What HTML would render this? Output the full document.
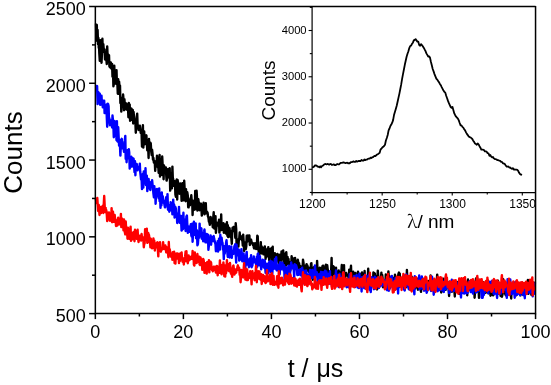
<!DOCTYPE html>
<html><head><meta charset="utf-8"><style>
html,body{margin:0;padding:0;background:#fff;}
svg{display:block;}
text{font-family:"Liberation Sans",Arial,sans-serif;fill:#000;}
</style></head><body>
<svg width="551" height="385" viewBox="0 0 551 385">
<path d="M96.0 23.5 L96.4 40.0 L96.8 25.0 L97.2 41.0 L97.6 30.0 L98.0 44.0 L98.4 38.0 L98.8 48.0 L98.9 39.9 L99.3 53.1 L99.8 60.8 L100.2 51.0 L100.6 40.1 L101.1 42.8 L101.5 62.8 L102.0 52.8 L102.4 38.7 L102.8 51.8 L103.3 44.2 L103.7 48.8 L104.2 50.5 L104.6 49.4 L105.0 59.5 L105.5 55.5 L105.9 52.1 L106.4 60.2 L106.8 64.0 L107.2 46.5 L107.7 58.3 L108.1 54.4 L108.6 61.9 L109.0 55.1 L109.4 66.3 L109.9 67.3 L110.3 66.7 L110.8 62.5 L111.2 68.5 L111.6 64.7 L112.1 64.0 L112.5 76.8 L113.0 68.4 L113.4 86.2 L113.8 84.2 L114.3 65.7 L114.7 83.0 L115.2 73.9 L115.6 82.9 L116.0 83.8 L116.5 70.1 L116.9 83.5 L117.4 84.2 L117.8 93.8 L118.2 79.3 L118.7 93.9 L119.1 81.7 L119.6 88.2 L120.0 85.6 L120.4 102.9 L120.9 97.7 L121.3 111.6 L121.8 100.2 L122.2 102.7 L122.6 103.7 L123.1 94.5 L123.5 99.3 L124.0 110.3 L124.4 99.1 L124.8 104.2 L125.3 103.8 L125.7 109.2 L126.2 103.5 L126.6 106.0 L127.0 109.7 L127.5 109.8 L127.9 104.2 L128.4 117.3 L128.8 102.9 L129.2 104.4 L129.7 104.6 L130.1 120.7 L130.6 112.4 L131.0 109.0 L131.4 108.6 L131.9 120.0 L132.3 110.7 L132.8 110.0 L133.2 123.5 L133.6 112.0 L134.1 118.6 L134.5 121.5 L135.0 119.3 L135.4 122.7 L135.8 132.8 L136.3 121.1 L136.7 116.9 L137.2 113.8 L137.6 125.4 L138.0 125.2 L138.5 130.0 L138.9 125.9 L139.4 126.6 L139.8 125.7 L140.2 127.8 L140.7 133.0 L141.1 130.1 L141.6 134.0 L142.0 146.6 L142.4 138.0 L142.9 125.2 L143.3 147.6 L143.8 139.2 L144.2 131.5 L144.6 144.3 L145.1 139.3 L145.5 136.0 L146.0 136.7 L146.4 135.3 L146.8 142.9 L147.3 150.3 L147.7 142.2 L148.2 147.8 L148.6 158.0 L149.0 139.0 L149.5 149.3 L149.9 146.5 L150.4 142.6 L150.8 143.7 L151.2 151.1 L151.7 155.0 L152.1 149.8 L152.6 154.5 L153.0 159.7 L153.4 158.0 L153.9 162.6 L154.3 161.0 L154.8 162.1 L155.2 170.9 L155.6 163.9 L156.1 161.2 L156.5 165.3 L157.0 155.6 L157.4 159.7 L157.8 167.2 L158.3 166.6 L158.7 172.8 L159.2 163.7 L159.6 155.0 L160.0 176.6 L160.5 171.7 L160.9 159.1 L161.4 174.8 L161.8 167.2 L162.2 156.5 L162.7 165.7 L163.1 165.8 L163.6 179.3 L164.0 165.4 L164.4 169.4 L164.9 169.9 L165.3 170.0 L165.8 167.4 L166.2 174.8 L166.6 180.6 L167.1 178.5 L167.5 169.7 L168.0 169.0 L168.4 177.3 L168.8 172.9 L169.3 174.0 L169.7 168.3 L170.2 190.6 L170.6 184.8 L171.0 173.9 L171.5 185.5 L171.9 188.4 L172.4 166.6 L172.8 177.9 L173.2 179.2 L173.7 185.8 L174.1 181.5 L174.6 181.3 L175.0 182.7 L175.4 194.4 L175.9 196.7 L176.3 181.3 L176.8 179.4 L177.2 199.5 L177.6 180.0 L178.1 182.9 L178.5 186.9 L179.0 190.0 L179.4 193.7 L179.8 190.4 L180.3 183.5 L180.7 192.0 L181.2 191.0 L181.6 200.9 L182.0 190.4 L182.5 183.2 L182.9 185.4 L183.4 200.4 L183.8 189.3 L184.2 180.8 L184.7 190.1 L185.1 193.9 L185.6 201.2 L186.0 189.1 L186.4 199.2 L186.9 200.4 L187.3 192.3 L187.8 195.7 L188.2 207.3 L188.6 207.4 L189.1 202.9 L189.5 200.3 L190.0 205.3 L190.4 198.5 L190.8 199.2 L191.3 195.3 L191.7 200.6 L192.2 200.5 L192.6 215.0 L193.0 200.8 L193.5 209.4 L193.9 209.9 L194.4 201.7 L194.8 209.6 L195.2 191.0 L195.7 204.1 L196.1 208.7 L196.6 190.7 L197.0 197.9 L197.4 210.6 L197.9 203.5 L198.3 199.1 L198.8 203.4 L199.2 202.8 L199.6 210.2 L200.1 209.1 L200.5 205.4 L201.0 203.7 L201.4 207.5 L201.8 215.6 L202.3 210.6 L202.7 212.7 L203.2 208.7 L203.6 202.8 L204.0 206.5 L204.5 214.4 L204.9 211.8 L205.4 206.7 L205.8 203.3 L206.2 213.4 L206.7 211.5 L207.1 212.0 L207.6 212.8 L208.0 216.7 L208.4 217.4 L208.9 221.6 L209.3 222.0 L209.8 224.8 L210.2 222.6 L210.6 217.0 L211.1 219.1 L211.5 222.7 L212.0 218.7 L212.4 223.7 L212.8 227.3 L213.3 217.2 L213.7 212.3 L214.2 228.5 L214.6 222.6 L215.0 226.6 L215.5 216.1 L215.9 232.8 L216.4 227.8 L216.8 223.6 L217.2 222.8 L217.7 225.6 L218.1 224.4 L218.6 224.0 L219.0 219.8 L219.4 232.6 L219.9 226.0 L220.3 226.8 L220.8 227.2 L221.2 214.5 L221.6 230.0 L222.1 225.7 L222.5 226.2 L223.0 228.3 L223.4 223.1 L223.8 232.8 L224.3 225.0 L224.7 224.2 L225.2 224.7 L225.6 230.2 L226.0 233.5 L226.5 226.8 L226.9 222.3 L227.4 235.9 L227.8 225.1 L228.2 237.1 L228.7 230.9 L229.1 227.8 L229.6 228.3 L230.0 234.3 L230.4 236.8 L230.9 231.4 L231.3 237.6 L231.8 243.8 L232.2 232.2 L232.6 227.6 L233.1 228.4 L233.5 227.0 L234.0 231.1 L234.4 231.0 L234.8 228.1 L235.3 237.9 L235.7 223.2 L236.2 229.0 L236.6 246.4 L237.0 241.8 L237.5 239.5 L237.9 239.6 L238.4 246.6 L238.8 240.7 L239.2 238.8 L239.7 232.5 L240.1 238.7 L240.6 235.8 L241.0 236.3 L241.4 236.7 L241.9 240.4 L242.3 239.3 L242.8 245.6 L243.2 234.7 L243.6 240.7 L244.1 251.0 L244.5 242.1 L245.0 248.0 L245.4 247.9 L245.8 249.0 L246.3 246.3 L246.7 235.8 L247.2 241.6 L247.6 241.2 L248.0 235.5 L248.5 241.1 L248.9 237.4 L249.4 235.5 L249.8 245.0 L250.2 243.9 L250.7 240.9 L251.1 239.7 L251.6 241.9 L252.0 242.8 L252.4 243.0 L252.9 244.9 L253.3 243.3 L253.8 247.6 L254.2 248.5 L254.6 247.9 L255.1 243.1 L255.5 243.6 L256.0 249.0 L256.4 246.2 L256.8 247.2 L257.3 235.8 L257.7 236.1 L258.2 249.7 L258.6 249.8 L259.0 255.2 L259.5 252.1 L259.9 249.8 L260.4 249.0 L260.8 242.1 L261.2 253.5 L261.7 246.4 L262.1 252.0 L262.6 250.7 L263.0 251.2 L263.4 254.4 L263.9 247.8 L264.3 248.5 L264.8 246.4 L265.2 248.9 L265.6 259.0 L266.1 249.3 L266.5 257.0 L267.0 255.4 L267.4 255.2 L267.8 255.7 L268.3 247.1 L268.7 254.0 L269.2 260.1 L269.6 249.3 L270.0 252.6 L270.5 249.7 L270.9 254.8 L271.4 248.2 L271.8 261.4 L272.2 252.0 L272.7 246.6 L273.1 262.8 L273.6 259.1 L274.0 257.1 L274.4 257.4 L274.9 253.3 L275.3 254.1 L275.8 258.9 L276.2 260.0 L276.6 260.2 L277.1 256.9 L277.5 253.9 L278.0 255.4 L278.4 261.7 L278.8 263.5 L279.3 255.2 L279.7 254.7 L280.2 263.1 L280.6 260.8 L281.0 260.8 L281.5 251.5 L281.9 256.1 L282.4 255.6 L282.8 259.2 L283.2 250.5 L283.7 264.6 L284.1 260.2 L284.6 261.0 L285.0 253.6 L285.4 259.2 L285.9 265.8 L286.3 252.3 L286.8 261.3 L287.2 263.3 L287.6 257.0 L288.1 264.2 L288.5 259.0 L289.0 266.5 L289.4 263.4 L289.8 262.2 L290.3 270.7 L290.7 265.4 L291.2 267.8 L291.6 256.3 L292.0 259.0 L292.5 266.1 L292.9 266.6 L293.4 262.3 L293.8 266.4 L294.2 258.1 L294.7 264.2 L295.1 258.0 L295.6 265.1 L296.0 261.5 L296.4 261.0 L296.9 264.4 L297.3 272.7 L297.8 259.8 L298.2 261.9 L298.6 269.8 L299.1 263.1 L299.5 273.4 L300.0 266.5 L300.4 266.1 L300.8 267.5 L301.3 274.0 L301.7 269.2 L302.2 268.8 L302.6 267.8 L303.0 259.6 L303.5 262.9 L303.9 274.0 L304.4 271.1 L304.8 269.9 L305.2 270.7 L305.7 265.5 L306.1 269.7 L306.6 264.2 L307.0 270.3 L307.4 265.5 L307.9 267.9 L308.3 271.1 L308.8 267.8 L309.2 272.4 L309.6 271.7 L310.1 271.5 L310.5 276.0 L311.0 263.6 L311.4 263.2 L311.8 273.3 L312.3 274.9 L312.7 279.8 L313.2 274.2 L313.6 274.7 L314.0 267.1 L314.5 274.5 L314.9 274.2 L315.4 266.6 L315.8 267.4 L316.2 271.0 L316.7 272.9 L317.1 260.9 L317.6 272.1 L318.0 272.9 L318.4 271.2 L318.9 273.3 L319.3 274.2 L319.8 267.7 L320.2 274.2 L320.6 271.3 L321.1 268.3 L321.5 273.6 L322.0 279.4 L322.4 266.3 L322.8 265.6 L323.3 265.7 L323.7 281.9 L324.2 272.1 L324.6 273.0 L325.0 269.9 L325.5 269.3 L325.9 264.6 L326.4 274.5 L326.8 274.9 L327.2 265.1 L327.7 269.3 L328.1 270.8 L328.6 274.1 L329.0 275.3 L329.4 279.3 L329.9 280.5 L330.3 279.3 L330.8 280.6 L331.2 269.6 L331.6 258.0 L332.1 280.0 L332.5 276.3 L333.0 275.1 L333.4 266.3 L333.8 266.9 L334.3 278.3 L334.7 276.6 L335.2 273.9 L335.6 273.4 L336.0 267.6 L336.5 276.9 L336.9 279.8 L337.4 282.5 L337.8 275.5 L338.2 274.5 L338.7 270.5 L339.1 280.8 L339.6 283.0 L340.0 272.8 L340.4 276.8 L340.9 275.9 L341.3 273.0 L341.8 265.0 L342.2 274.0 L342.6 278.3 L343.1 269.3 L343.5 272.0 L344.0 265.1 L344.4 281.4 L344.8 278.0 L345.3 276.0 L345.7 274.6 L346.2 273.0 L346.6 275.5 L347.0 274.5 L347.5 274.8 L347.9 275.8 L348.4 276.5 L348.8 282.8 L349.2 269.6 L349.7 277.2 L350.1 273.4 L350.6 271.2 L351.0 265.8 L351.4 278.9 L351.9 272.0 L352.3 273.0 L352.8 278.4 L353.2 271.7 L353.6 276.6 L354.1 276.2 L354.5 280.1 L355.0 281.1 L355.4 272.9 L355.8 280.7 L356.3 276.3 L356.7 277.4 L357.2 275.9 L357.6 280.3 L358.0 271.7 L358.5 278.1 L358.9 282.2 L359.4 275.9 L359.8 286.0 L360.2 274.0 L360.7 278.2 L361.1 275.2 L361.6 274.6 L362.0 272.5 L362.4 275.1 L362.9 277.3 L363.3 274.0 L363.8 281.5 L364.2 284.3 L364.6 271.0 L365.1 281.4 L365.5 278.6 L366.0 278.9 L366.4 288.4 L366.8 283.2 L367.3 279.4 L367.7 278.8 L368.2 268.7 L368.6 281.5 L369.0 275.0 L369.5 279.0 L369.9 278.7 L370.4 282.6 L370.8 287.3 L371.2 282.8 L371.7 284.1 L372.1 277.5 L372.6 280.6 L373.0 282.0 L373.4 272.5 L373.9 287.6 L374.3 275.7 L374.8 273.3 L375.2 286.0 L375.6 288.2 L376.1 276.0 L376.5 276.4 L377.0 289.5 L377.4 279.6 L377.8 270.6 L378.3 276.6 L378.7 288.0 L379.2 282.2 L379.6 282.7 L380.0 284.8 L380.5 282.4 L380.9 278.1 L381.4 272.7 L381.8 281.6 L382.2 274.9 L382.7 279.5 L383.1 287.4 L383.6 282.2 L384.0 280.1 L384.4 280.2 L384.9 283.1 L385.3 284.0 L385.8 274.4 L386.2 280.9 L386.6 287.6 L387.1 283.4 L387.5 276.9 L388.0 277.3 L388.4 271.4 L388.8 276.9 L389.3 287.3 L389.7 280.1 L390.2 276.8 L390.6 278.0 L391.0 280.0 L391.5 280.1 L391.9 279.1 L392.4 277.3 L392.8 283.4 L393.2 287.3 L393.7 278.3 L394.1 278.5 L394.6 285.9 L395.0 274.6 L395.4 278.3 L395.9 279.3 L396.3 281.7 L396.8 279.8 L397.2 277.2 L397.6 282.4 L398.1 276.0 L398.5 273.7 L399.0 272.5 L399.4 284.5 L399.8 273.8 L400.3 283.2 L400.7 284.2 L401.2 284.9 L401.6 280.7 L402.0 279.1 L402.5 281.9 L402.9 279.0 L403.4 276.1 L403.8 287.0 L404.2 277.8 L404.7 289.4 L405.1 283.9 L405.6 279.8 L406.0 283.7 L406.4 287.1 L406.9 270.0 L407.3 277.9 L407.8 277.5 L408.2 282.7 L408.6 283.8 L409.1 282.2 L409.5 279.0 L410.0 279.9 L410.4 287.3 L410.8 287.0 L411.3 282.8 L411.7 276.7 L412.2 285.0 L412.6 283.6 L413.0 283.5 L413.5 289.8 L413.9 286.0 L414.4 278.4 L414.8 278.4 L415.2 288.5 L415.7 283.5 L416.1 286.5 L416.6 282.3 L417.0 278.7 L417.4 284.2 L417.9 289.7 L418.3 284.6 L418.8 278.3 L419.2 281.9 L419.6 281.1 L420.1 284.1 L420.5 287.7 L421.0 291.9 L421.4 284.5 L421.8 281.8 L422.3 284.0 L422.7 283.7 L423.2 281.9 L423.6 283.9 L424.0 283.8 L424.5 278.9 L424.9 286.2 L425.4 282.4 L425.8 279.8 L426.2 286.1 L426.7 282.0 L427.1 291.5 L427.6 286.2 L428.0 284.5 L428.4 281.0 L428.9 282.5 L429.3 287.9 L429.8 281.4 L430.2 287.6 L430.6 275.5 L431.1 285.3 L431.5 287.9 L432.0 286.0 L432.4 284.5 L432.8 288.9 L433.3 281.0 L433.7 280.5 L434.2 285.2 L434.6 289.9 L435.0 286.6 L435.5 284.0 L435.9 286.2 L436.4 286.8 L436.8 279.7 L437.2 274.6 L437.7 280.7 L438.1 278.8 L438.6 282.7 L439.0 280.1 L439.4 281.6 L439.9 287.1 L440.3 285.8 L440.8 285.3 L441.2 292.5 L441.6 283.6 L442.1 284.0 L442.5 291.0 L443.0 281.0 L443.4 278.8 L443.8 291.3 L444.3 287.2 L444.7 288.4 L445.2 288.6 L445.6 289.8 L446.0 284.0 L446.5 285.8 L446.9 281.4 L447.4 286.8 L447.8 287.2 L448.2 284.4 L448.7 289.1 L449.1 296.0 L449.6 281.6 L450.0 290.0 L450.4 290.5 L450.9 291.1 L451.3 283.3 L451.8 291.7 L452.2 289.5 L452.6 286.3 L453.1 285.4 L453.5 287.9 L454.0 290.9 L454.4 290.7 L454.8 296.5 L455.3 285.7 L455.7 289.8 L456.2 285.5 L456.6 290.6 L457.0 287.9 L457.5 284.9 L457.9 281.9 L458.4 284.3 L458.8 288.5 L459.2 293.7 L459.7 290.9 L460.1 282.6 L460.6 285.6 L461.0 287.8 L461.4 287.1 L461.9 287.9 L462.3 290.8 L462.8 288.5 L463.2 284.6 L463.6 279.5 L464.1 286.1 L464.5 280.5 L465.0 286.8 L465.4 288.8 L465.8 281.9 L466.3 286.8 L466.7 286.0 L467.2 295.3 L467.6 289.3 L468.0 279.5 L468.5 289.2 L468.9 289.1 L469.4 286.5 L469.8 285.8 L470.2 289.8 L470.7 290.1 L471.1 289.1 L471.6 283.2 L472.0 286.3 L472.4 280.8 L472.9 281.1 L473.3 285.0 L473.8 283.0 L474.2 285.6 L474.6 297.7 L475.1 289.4 L475.5 283.7 L476.0 278.4 L476.4 283.9 L476.8 281.4 L477.3 278.2 L477.7 290.4 L478.2 285.4 L478.6 289.2 L479.0 297.9 L479.5 288.6 L479.9 288.0 L480.4 289.0 L480.8 286.4 L481.2 284.1 L481.7 286.7 L482.1 292.3 L482.6 286.5 L483.0 281.9 L483.4 282.5 L483.9 283.4 L484.3 287.8 L484.8 289.8 L485.2 289.8 L485.6 292.8 L486.1 287.0 L486.5 291.4 L487.0 289.3 L487.4 291.0 L487.8 280.4 L488.3 293.3 L488.7 281.8 L489.2 283.6 L489.6 291.5 L490.0 286.7 L490.5 295.7 L490.9 289.1 L491.4 284.2 L491.8 289.1 L492.2 286.8 L492.7 295.0 L493.1 295.3 L493.6 291.7 L494.0 286.9 L494.4 289.0 L494.9 293.0 L495.3 285.4 L495.8 285.4 L496.2 292.3 L496.6 291.8 L497.1 287.9 L497.5 287.7 L498.0 280.8 L498.4 293.8 L498.8 288.4 L499.3 283.0 L499.7 284.3 L500.2 285.3 L500.6 296.0 L501.0 291.9 L501.5 283.5 L501.9 296.7 L502.4 294.6 L502.8 284.7 L503.2 279.2 L503.7 293.1 L504.1 286.6 L504.6 288.6 L505.0 287.0 L505.4 294.4 L505.9 295.3 L506.3 292.5 L506.8 288.6 L507.2 290.3 L507.6 291.8 L508.1 282.7 L508.5 294.4 L509.0 287.9 L509.4 290.4 L509.8 289.9 L510.3 293.1 L510.7 293.7 L511.2 298.5 L511.6 287.9 L512.0 285.6 L512.5 290.0 L512.9 286.7 L513.4 293.0 L513.8 286.1 L514.2 290.0 L514.7 293.4 L515.1 293.7 L515.6 290.4 L516.0 295.4 L516.4 294.9 L516.9 282.6 L517.3 291.1 L517.8 290.4 L518.2 288.4 L518.6 287.0 L519.1 289.9 L519.5 291.3 L520.0 290.8 L520.4 295.4 L520.8 293.8 L521.3 287.3 L521.7 286.6 L522.2 293.3 L522.6 286.9 L523.0 290.5 L523.5 291.8 L523.9 294.1 L524.4 292.0 L524.8 295.8 L525.2 288.0 L525.7 292.7 L526.1 287.2 L526.6 290.7 L527.0 290.5 L527.4 286.1 L527.9 279.9 L528.3 293.9 L528.8 291.5 L529.2 290.6 L529.6 287.1 L530.1 288.7 L530.5 291.9 L531.0 290.1 L531.4 294.8 L531.8 290.6 L532.3 286.7 L532.7 292.6 L533.2 287.5 L533.6 291.0 L534.0 282.7 L534.5 288.7 L534.9 292.4" fill="none" stroke="#000" stroke-width="2.4" stroke-linejoin="round"/>
<path d="M95.8 86.0 L96.2 86.0 L96.7 86.7 L97.1 86.0 L97.6 104.1 L98.0 100.9 L98.4 92.2 L98.9 100.9 L99.3 98.5 L99.8 93.8 L100.2 104.9 L100.6 97.2 L101.1 98.0 L101.5 95.8 L102.0 104.9 L102.4 102.1 L102.8 107.3 L103.3 100.6 L103.7 106.4 L104.2 100.7 L104.6 113.1 L105.0 109.7 L105.5 111.6 L105.9 113.1 L106.4 104.8 L106.8 117.5 L107.2 126.7 L107.7 103.6 L108.1 104.0 L108.6 106.2 L109.0 122.2 L109.4 118.3 L109.9 125.2 L110.3 123.6 L110.8 121.1 L111.2 122.3 L111.6 120.1 L112.1 127.5 L112.5 115.5 L113.0 120.9 L113.4 126.2 L113.8 137.2 L114.3 121.9 L114.7 121.0 L115.2 125.3 L115.6 136.0 L116.0 129.5 L116.5 140.3 L116.9 121.3 L117.4 141.2 L117.8 141.6 L118.2 127.3 L118.7 138.2 L119.1 145.8 L119.6 139.7 L120.0 146.2 L120.4 155.6 L120.9 143.5 L121.3 140.9 L121.8 138.8 L122.2 148.4 L122.6 144.1 L123.1 145.1 L123.5 146.4 L124.0 151.9 L124.4 142.3 L124.8 140.4 L125.3 136.0 L125.7 158.7 L126.2 152.8 L126.6 162.3 L127.0 154.0 L127.5 150.3 L127.9 158.3 L128.4 155.6 L128.8 149.2 L129.2 152.1 L129.7 168.6 L130.1 160.9 L130.6 161.9 L131.0 158.5 L131.4 156.7 L131.9 166.7 L132.3 161.5 L132.8 158.3 L133.2 162.7 L133.6 158.8 L134.1 165.9 L134.5 172.1 L135.0 161.2 L135.4 175.2 L135.8 163.6 L136.3 169.0 L136.7 163.9 L137.2 168.2 L137.6 170.4 L138.0 168.1 L138.5 167.1 L138.9 167.7 L139.4 167.4 L139.8 163.6 L140.2 171.7 L140.7 176.1 L141.1 179.5 L141.6 178.5 L142.0 189.1 L142.4 177.7 L142.9 173.7 L143.3 187.6 L143.8 171.4 L144.2 183.4 L144.6 173.0 L145.1 181.0 L145.5 168.3 L146.0 185.1 L146.4 179.6 L146.8 175.6 L147.3 191.1 L147.7 186.4 L148.2 182.9 L148.6 178.9 L149.0 183.5 L149.5 183.4 L149.9 188.9 L150.4 189.9 L150.8 182.3 L151.2 183.5 L151.7 184.2 L152.1 180.2 L152.6 185.0 L153.0 188.4 L153.4 193.3 L153.9 197.3 L154.3 186.1 L154.8 194.2 L155.2 189.3 L155.6 203.8 L156.1 192.6 L156.5 196.2 L157.0 188.9 L157.4 190.2 L157.8 196.3 L158.3 193.7 L158.7 198.3 L159.2 188.4 L159.6 201.1 L160.0 193.2 L160.5 207.9 L160.9 197.4 L161.4 205.4 L161.8 192.4 L162.2 202.8 L162.7 196.1 L163.1 198.8 L163.6 202.0 L164.0 200.7 L164.4 204.3 L164.9 207.3 L165.3 207.3 L165.8 203.7 L166.2 197.2 L166.6 200.5 L167.1 204.1 L167.5 194.1 L168.0 209.8 L168.4 204.8 L168.8 205.0 L169.3 211.7 L169.7 210.6 L170.2 208.5 L170.6 202.3 L171.0 209.6 L171.5 210.1 L171.9 203.9 L172.4 214.4 L172.8 212.1 L173.2 199.6 L173.7 211.2 L174.1 204.5 L174.6 217.6 L175.0 216.5 L175.4 207.0 L175.9 208.8 L176.3 214.5 L176.8 213.3 L177.2 223.0 L177.6 219.5 L178.1 214.8 L178.5 219.8 L179.0 206.9 L179.4 219.5 L179.8 222.9 L180.3 218.2 L180.7 216.0 L181.2 223.0 L181.6 230.6 L182.0 222.0 L182.5 215.7 L182.9 229.2 L183.4 212.7 L183.8 225.2 L184.2 220.1 L184.7 228.2 L185.1 219.6 L185.6 231.0 L186.0 226.3 L186.4 216.5 L186.9 215.6 L187.3 224.4 L187.8 232.9 L188.2 227.5 L188.6 227.6 L189.1 226.5 L189.5 231.8 L190.0 230.4 L190.4 230.3 L190.8 224.3 L191.3 235.4 L191.7 236.5 L192.2 223.6 L192.6 241.7 L193.0 234.2 L193.5 228.5 L193.9 221.7 L194.4 234.7 L194.8 234.5 L195.2 229.1 L195.7 223.4 L196.1 238.1 L196.6 229.9 L197.0 230.8 L197.4 245.2 L197.9 244.1 L198.3 238.6 L198.8 232.0 L199.2 237.7 L199.6 223.6 L200.1 235.6 L200.5 231.7 L201.0 229.4 L201.4 228.3 L201.8 238.8 L202.3 237.0 L202.7 237.7 L203.2 241.3 L203.6 233.4 L204.0 231.8 L204.5 229.5 L204.9 236.8 L205.4 242.4 L205.8 238.3 L206.2 242.4 L206.7 234.0 L207.1 237.7 L207.6 236.6 L208.0 234.6 L208.4 249.8 L208.9 245.3 L209.3 237.8 L209.8 238.1 L210.2 241.8 L210.6 235.5 L211.1 244.8 L211.5 236.8 L212.0 241.3 L212.4 238.3 L212.8 241.0 L213.3 237.1 L213.7 236.1 L214.2 239.1 L214.6 240.5 L215.0 242.5 L215.5 244.3 L215.9 251.3 L216.4 248.0 L216.8 243.1 L217.2 247.8 L217.7 241.2 L218.1 251.6 L218.6 247.6 L219.0 238.8 L219.4 249.0 L219.9 249.6 L220.3 234.7 L220.8 242.7 L221.2 244.2 L221.6 237.6 L222.1 241.9 L222.5 242.7 L223.0 249.8 L223.4 249.1 L223.8 259.1 L224.3 246.3 L224.7 253.7 L225.2 248.9 L225.6 250.0 L226.0 243.5 L226.5 240.2 L226.9 245.7 L227.4 253.0 L227.8 257.0 L228.2 252.6 L228.7 252.3 L229.1 246.3 L229.6 257.5 L230.0 256.8 L230.4 248.3 L230.9 250.6 L231.3 246.4 L231.8 257.9 L232.2 253.1 L232.6 250.9 L233.1 253.4 L233.5 253.7 L234.0 249.9 L234.4 246.2 L234.8 246.1 L235.3 244.1 L235.7 254.4 L236.2 262.6 L236.6 244.8 L237.0 253.6 L237.5 255.3 L237.9 249.3 L238.4 255.2 L238.8 249.7 L239.2 260.6 L239.7 252.8 L240.1 256.4 L240.6 259.5 L241.0 254.8 L241.4 249.1 L241.9 255.2 L242.3 261.4 L242.8 257.8 L243.2 259.3 L243.6 253.5 L244.1 259.2 L244.5 261.9 L245.0 258.9 L245.4 267.5 L245.8 258.1 L246.3 254.5 L246.7 252.0 L247.2 264.6 L247.6 259.3 L248.0 264.2 L248.5 261.9 L248.9 267.2 L249.4 265.7 L249.8 258.5 L250.2 261.6 L250.7 265.3 L251.1 255.1 L251.6 267.2 L252.0 266.3 L252.4 265.4 L252.9 260.2 L253.3 262.6 L253.8 256.5 L254.2 261.9 L254.6 259.2 L255.1 262.3 L255.5 259.9 L256.0 263.5 L256.4 267.6 L256.8 256.8 L257.3 266.8 L257.7 254.1 L258.2 253.5 L258.6 262.6 L259.0 263.3 L259.5 265.3 L259.9 256.2 L260.4 263.3 L260.8 264.3 L261.2 269.3 L261.7 263.5 L262.1 266.4 L262.6 259.8 L263.0 263.4 L263.4 262.4 L263.9 267.6 L264.3 260.2 L264.8 261.0 L265.2 267.3 L265.6 272.8 L266.1 266.7 L266.5 266.5 L267.0 263.8 L267.4 270.3 L267.8 268.1 L268.3 273.4 L268.7 267.5 L269.2 262.0 L269.6 263.9 L270.0 262.2 L270.5 261.1 L270.9 272.2 L271.4 270.3 L271.8 261.5 L272.2 274.7 L272.7 268.1 L273.1 262.9 L273.6 268.9 L274.0 267.0 L274.4 264.0 L274.9 259.0 L275.3 267.7 L275.8 268.9 L276.2 257.3 L276.6 270.2 L277.1 270.5 L277.5 265.9 L278.0 268.5 L278.4 266.9 L278.8 264.6 L279.3 266.7 L279.7 274.2 L280.2 262.2 L280.6 269.6 L281.0 269.4 L281.5 265.6 L281.9 266.9 L282.4 262.8 L282.8 265.3 L283.2 269.1 L283.7 270.5 L284.1 265.3 L284.6 279.6 L285.0 266.9 L285.4 270.0 L285.9 268.6 L286.3 267.9 L286.8 275.3 L287.2 267.7 L287.6 275.6 L288.1 274.9 L288.5 265.6 L289.0 274.6 L289.4 267.4 L289.8 280.6 L290.3 268.7 L290.7 266.4 L291.2 262.4 L291.6 265.1 L292.0 268.3 L292.5 266.6 L292.9 265.7 L293.4 268.1 L293.8 270.3 L294.2 277.4 L294.7 264.1 L295.1 269.1 L295.6 267.5 L296.0 265.2 L296.4 266.3 L296.9 268.0 L297.3 275.0 L297.8 271.2 L298.2 269.8 L298.6 274.8 L299.1 273.5 L299.5 271.4 L300.0 274.1 L300.4 269.1 L300.8 275.3 L301.3 274.8 L301.7 271.1 L302.2 267.8 L302.6 279.5 L303.0 273.5 L303.5 283.4 L303.9 270.6 L304.4 277.0 L304.8 271.7 L305.2 274.7 L305.7 277.2 L306.1 270.4 L306.6 273.5 L307.0 274.7 L307.4 274.6 L307.9 276.7 L308.3 278.6 L308.8 277.9 L309.2 275.6 L309.6 273.1 L310.1 269.9 L310.5 271.7 L311.0 272.6 L311.4 277.8 L311.8 273.5 L312.3 269.9 L312.7 277.8 L313.2 271.9 L313.6 272.1 L314.0 274.4 L314.5 277.4 L314.9 265.5 L315.4 270.9 L315.8 276.4 L316.2 274.2 L316.7 272.2 L317.1 273.6 L317.6 281.8 L318.0 274.1 L318.4 279.1 L318.9 279.5 L319.3 274.4 L319.8 278.2 L320.2 274.5 L320.6 273.9 L321.1 271.8 L321.5 280.2 L322.0 275.0 L322.4 274.4 L322.8 272.1 L323.3 284.4 L323.7 280.0 L324.2 276.5 L324.6 274.2 L325.0 270.8 L325.5 278.4 L325.9 278.5 L326.4 271.5 L326.8 282.3 L327.2 280.7 L327.7 273.6 L328.1 275.3 L328.6 275.9 L329.0 278.5 L329.4 277.3 L329.9 271.1 L330.3 284.1 L330.8 279.4 L331.2 283.4 L331.6 283.4 L332.1 277.4 L332.5 279.8 L333.0 281.5 L333.4 281.7 L333.8 277.9 L334.3 276.1 L334.7 278.9 L335.2 275.5 L335.6 276.5 L336.0 270.5 L336.5 279.3 L336.9 274.8 L337.4 276.8 L337.8 279.0 L338.2 280.6 L338.7 287.1 L339.1 280.3 L339.6 273.7 L340.0 280.1 L340.4 277.2 L340.9 281.3 L341.3 276.9 L341.8 276.9 L342.2 277.8 L342.6 277.4 L343.1 272.5 L343.5 277.4 L344.0 280.1 L344.4 285.2 L344.8 279.1 L345.3 278.9 L345.7 282.9 L346.2 282.8 L346.6 287.2 L347.0 283.1 L347.5 280.7 L347.9 286.3 L348.4 287.2 L348.8 279.0 L349.2 281.7 L349.7 274.2 L350.1 279.6 L350.6 277.5 L351.0 280.2 L351.4 279.2 L351.9 280.5 L352.3 280.8 L352.8 283.2 L353.2 282.2 L353.6 279.0 L354.1 276.0 L354.5 286.4 L355.0 287.1 L355.4 279.5 L355.8 283.7 L356.3 275.2 L356.7 275.0 L357.2 280.3 L357.6 287.5 L358.0 277.2 L358.5 278.1 L358.9 288.1 L359.4 273.8 L359.8 284.2 L360.2 283.6 L360.7 280.8 L361.1 282.4 L361.6 291.5 L362.0 277.1 L362.4 280.5 L362.9 280.8 L363.3 279.0 L363.8 276.3 L364.2 288.3 L364.6 282.8 L365.1 274.7 L365.5 279.0 L366.0 283.6 L366.4 283.6 L366.8 276.1 L367.3 281.6 L367.7 283.1 L368.2 283.7 L368.6 283.7 L369.0 274.7 L369.5 289.7 L369.9 283.0 L370.4 289.5 L370.8 292.0 L371.2 281.6 L371.7 277.2 L372.1 285.8 L372.6 281.6 L373.0 280.5 L373.4 278.1 L373.9 289.3 L374.3 280.6 L374.8 276.7 L375.2 280.6 L375.6 277.8 L376.1 283.1 L376.5 280.8 L377.0 278.3 L377.4 285.0 L377.8 280.0 L378.3 285.6 L378.7 287.8 L379.2 281.2 L379.6 280.1 L380.0 283.5 L380.5 286.4 L380.9 282.8 L381.4 283.4 L381.8 282.7 L382.2 284.1 L382.7 285.4 L383.1 280.0 L383.6 281.0 L384.0 283.1 L384.4 280.3 L384.9 283.5 L385.3 285.2 L385.8 283.0 L386.2 280.6 L386.6 279.9 L387.1 290.2 L387.5 286.7 L388.0 278.6 L388.4 279.8 L388.8 290.8 L389.3 289.4 L389.7 283.8 L390.2 288.0 L390.6 277.3 L391.0 283.4 L391.5 286.4 L391.9 275.9 L392.4 280.2 L392.8 286.6 L393.2 288.1 L393.7 281.1 L394.1 284.7 L394.6 290.0 L395.0 282.0 L395.4 278.2 L395.9 283.4 L396.3 282.1 L396.8 288.9 L397.2 284.3 L397.6 280.5 L398.1 293.5 L398.5 281.7 L399.0 285.7 L399.4 286.6 L399.8 287.0 L400.3 284.6 L400.7 286.3 L401.2 283.6 L401.6 278.2 L402.0 283.1 L402.5 283.2 L402.9 283.3 L403.4 284.6 L403.8 281.6 L404.2 289.4 L404.7 290.5 L405.1 275.3 L405.6 284.2 L406.0 281.3 L406.4 274.5 L406.9 285.9 L407.3 281.8 L407.8 282.8 L408.2 281.7 L408.6 288.7 L409.1 289.4 L409.5 285.5 L410.0 287.2 L410.4 284.0 L410.8 285.0 L411.3 281.5 L411.7 284.7 L412.2 281.7 L412.6 286.1 L413.0 287.9 L413.5 285.9 L413.9 289.4 L414.4 294.3 L414.8 276.2 L415.2 284.8 L415.7 282.5 L416.1 282.9 L416.6 279.3 L417.0 285.0 L417.4 283.8 L417.9 282.3 L418.3 283.9 L418.8 282.5 L419.2 275.5 L419.6 289.3 L420.1 283.8 L420.5 281.2 L421.0 286.3 L421.4 282.4 L421.8 276.4 L422.3 288.7 L422.7 278.5 L423.2 284.4 L423.6 285.8 L424.0 290.7 L424.5 290.1 L424.9 286.0 L425.4 282.3 L425.8 283.8 L426.2 289.8 L426.7 292.7 L427.1 287.7 L427.6 283.0 L428.0 289.7 L428.4 284.1 L428.9 284.0 L429.3 284.6 L429.8 288.1 L430.2 286.9 L430.6 289.8 L431.1 291.0 L431.5 287.9 L432.0 276.6 L432.4 279.1 L432.8 286.6 L433.3 285.7 L433.7 294.7 L434.2 285.9 L434.6 285.5 L435.0 289.9 L435.5 290.4 L435.9 285.3 L436.4 288.1 L436.8 281.7 L437.2 282.5 L437.7 291.3 L438.1 280.7 L438.6 290.1 L439.0 289.1 L439.4 289.5 L439.9 290.1 L440.3 288.8 L440.8 278.0 L441.2 282.6 L441.6 284.2 L442.1 290.3 L442.5 282.2 L443.0 283.9 L443.4 285.3 L443.8 292.0 L444.3 281.1 L444.7 281.5 L445.2 289.4 L445.6 278.4 L446.0 288.3 L446.5 285.2 L446.9 280.7 L447.4 285.4 L447.8 283.1 L448.2 287.8 L448.7 288.6 L449.1 293.1 L449.6 287.2 L450.0 287.7 L450.4 285.0 L450.9 287.2 L451.3 291.5 L451.8 279.7 L452.2 290.0 L452.6 285.3 L453.1 287.8 L453.5 288.8 L454.0 290.9 L454.4 288.5 L454.8 286.1 L455.3 288.9 L455.7 287.7 L456.2 286.9 L456.6 288.6 L457.0 291.2 L457.5 288.4 L457.9 288.5 L458.4 282.8 L458.8 287.4 L459.2 280.6 L459.7 290.8 L460.1 284.3 L460.6 293.1 L461.0 297.5 L461.4 286.4 L461.9 293.3 L462.3 289.6 L462.8 285.8 L463.2 284.7 L463.6 290.3 L464.1 293.6 L464.5 289.5 L465.0 282.1 L465.4 283.9 L465.8 287.2 L466.3 293.5 L466.7 289.2 L467.2 289.4 L467.6 292.9 L468.0 287.3 L468.5 287.8 L468.9 287.4 L469.4 281.1 L469.8 290.0 L470.2 289.8 L470.7 292.0 L471.1 283.4 L471.6 284.9 L472.0 291.9 L472.4 289.4 L472.9 293.6 L473.3 284.7 L473.8 289.0 L474.2 285.5 L474.6 289.4 L475.1 286.3 L475.5 290.3 L476.0 292.5 L476.4 290.9 L476.8 281.0 L477.3 291.9 L477.7 290.0 L478.2 284.1 L478.6 284.7 L479.0 288.3 L479.5 290.5 L479.9 286.5 L480.4 281.8 L480.8 289.4 L481.2 288.9 L481.7 297.8 L482.1 283.2 L482.6 297.8 L483.0 295.2 L483.4 289.5 L483.9 294.9 L484.3 288.7 L484.8 292.2 L485.2 285.4 L485.6 288.6 L486.1 284.3 L486.5 282.1 L487.0 287.3 L487.4 285.7 L487.8 290.6 L488.3 293.4 L488.7 287.7 L489.2 288.6 L489.6 289.1 L490.0 281.7 L490.5 289.4 L490.9 288.4 L491.4 288.2 L491.8 284.0 L492.2 280.6 L492.7 287.4 L493.1 289.7 L493.6 293.7 L494.0 292.9 L494.4 294.2 L494.9 289.9 L495.3 293.0 L495.8 287.6 L496.2 290.9 L496.6 292.1 L497.1 298.0 L497.5 289.4 L498.0 283.4 L498.4 293.9 L498.8 285.4 L499.3 288.3 L499.7 287.3 L500.2 284.9 L500.6 293.8 L501.0 290.9 L501.5 286.1 L501.9 288.8 L502.4 286.8 L502.8 291.0 L503.2 287.0 L503.7 285.5 L504.1 286.0 L504.6 286.8 L505.0 289.7 L505.4 284.9 L505.9 288.2 L506.3 290.3 L506.8 297.8 L507.2 292.0 L507.6 279.1 L508.1 286.6 L508.5 287.1 L509.0 289.9 L509.4 294.8 L509.8 291.6 L510.3 279.5 L510.7 289.9 L511.2 289.1 L511.6 290.3 L512.0 294.0 L512.5 284.4 L512.9 293.0 L513.4 282.2 L513.8 288.9 L514.2 290.2 L514.7 297.7 L515.1 285.9 L515.6 282.0 L516.0 291.4 L516.4 286.1 L516.9 294.9 L517.3 286.0 L517.8 285.3 L518.2 293.7 L518.6 289.1 L519.1 292.7 L519.5 283.1 L520.0 295.3 L520.4 286.5 L520.8 292.0 L521.3 284.8 L521.7 282.7 L522.2 287.8 L522.6 289.5 L523.0 295.1 L523.5 290.2 L523.9 291.7 L524.4 291.4 L524.8 298.3 L525.2 285.6 L525.7 293.8 L526.1 288.3 L526.6 289.9 L527.0 286.7 L527.4 293.5 L527.9 283.9 L528.3 283.7 L528.8 288.1 L529.2 284.3 L529.6 291.7 L530.1 292.6 L530.5 286.0 L531.0 292.0 L531.4 286.3 L531.8 288.8 L532.3 289.0 L532.7 296.4 L533.2 289.0 L533.6 285.4 L534.0 285.4 L534.5 293.7 L534.9 282.4" fill="none" stroke="#0000ff" stroke-width="2.4" stroke-linejoin="round"/>
<path d="M95.8 198.5 L96.5 203.0 L97.3 198.0 L98.1 211.0 L98.8 205.0 L99.5 215.0 L100.3 207.0 L101.0 213.0 L101.8 208.0 L102.6 206.0 L103.3 213.0 L104.2 196.0 L105.0 212.0 L105.7 208.0 L105.9 209.0 L106.4 211.0 L106.8 214.7 L107.2 221.1 L107.7 212.8 L108.1 213.6 L108.6 219.4 L109.0 212.4 L109.4 215.5 L109.9 220.7 L110.3 219.7 L110.8 217.9 L111.2 220.5 L111.6 208.1 L112.1 222.3 L112.5 214.4 L113.0 211.7 L113.4 219.9 L113.8 221.8 L114.3 217.3 L114.7 215.0 L115.2 219.8 L115.6 219.7 L116.0 226.0 L116.5 223.5 L116.9 221.5 L117.4 225.5 L117.8 220.4 L118.2 217.7 L118.7 224.1 L119.1 224.4 L119.6 221.4 L120.0 219.3 L120.4 224.0 L120.9 213.9 L121.3 227.1 L121.8 226.9 L122.2 218.8 L122.6 226.3 L123.1 222.7 L123.5 230.4 L124.0 219.5 L124.4 224.7 L124.8 232.0 L125.3 234.4 L125.7 221.4 L126.2 228.8 L126.6 232.8 L127.0 229.5 L127.5 238.8 L127.9 227.6 L128.4 234.1 L128.8 228.6 L129.2 238.9 L129.7 233.3 L130.1 232.0 L130.6 226.7 L131.0 240.9 L131.4 237.3 L131.9 237.5 L132.3 239.3 L132.8 236.3 L133.2 232.5 L133.6 232.0 L134.1 232.2 L134.5 241.2 L135.0 229.8 L135.4 233.5 L135.8 234.8 L136.3 237.2 L136.7 238.8 L137.2 231.5 L137.6 229.7 L138.0 237.0 L138.5 242.0 L138.9 240.2 L139.4 238.0 L139.8 235.8 L140.2 238.4 L140.7 236.2 L141.1 240.6 L141.6 234.0 L142.0 237.9 L142.4 236.9 L142.9 239.6 L143.3 238.4 L143.8 247.3 L144.2 243.7 L144.6 243.7 L145.1 229.3 L145.5 236.4 L146.0 235.3 L146.4 240.1 L146.8 228.6 L147.3 242.9 L147.7 242.5 L148.2 232.9 L148.6 234.3 L149.0 235.1 L149.5 238.6 L149.9 241.1 L150.4 247.4 L150.8 238.7 L151.2 243.2 L151.7 241.3 L152.1 248.4 L152.6 244.8 L153.0 247.9 L153.4 238.5 L153.9 242.7 L154.3 240.7 L154.8 250.5 L155.2 247.3 L155.6 243.6 L156.1 243.3 L156.5 247.4 L157.0 242.8 L157.4 242.2 L157.8 248.3 L158.3 256.4 L158.7 245.8 L159.2 244.9 L159.6 242.6 L160.0 242.2 L160.5 250.1 L160.9 251.6 L161.4 248.2 L161.8 249.6 L162.2 248.8 L162.7 248.9 L163.1 242.2 L163.6 246.6 L164.0 249.0 L164.4 245.4 L164.9 246.7 L165.3 245.4 L165.8 247.5 L166.2 252.4 L166.6 247.3 L167.1 248.6 L167.5 252.9 L168.0 252.5 L168.4 257.2 L168.8 242.0 L169.3 254.4 L169.7 249.3 L170.2 252.1 L170.6 255.4 L171.0 256.7 L171.5 256.9 L171.9 253.6 L172.4 259.8 L172.8 252.2 L173.2 253.0 L173.7 257.1 L174.1 251.8 L174.6 263.1 L175.0 258.7 L175.4 263.6 L175.9 254.8 L176.3 253.6 L176.8 256.1 L177.2 258.6 L177.6 253.4 L178.1 257.6 L178.5 256.2 L179.0 263.1 L179.4 254.0 L179.8 261.2 L180.3 254.4 L180.7 253.2 L181.2 254.3 L181.6 252.4 L182.0 258.0 L182.5 261.7 L182.9 258.3 L183.4 260.2 L183.8 264.5 L184.2 259.0 L184.7 258.7 L185.1 256.9 L185.6 251.5 L186.0 261.3 L186.4 251.1 L186.9 261.1 L187.3 258.4 L187.8 263.2 L188.2 258.4 L188.6 255.4 L189.1 260.3 L189.5 256.6 L190.0 258.3 L190.4 259.3 L190.8 258.7 L191.3 258.6 L191.7 256.1 L192.2 258.9 L192.6 251.0 L193.0 259.3 L193.5 255.1 L193.9 264.8 L194.4 265.5 L194.8 252.4 L195.2 261.2 L195.7 260.2 L196.1 256.5 L196.6 263.1 L197.0 259.2 L197.4 254.0 L197.9 260.3 L198.3 260.9 L198.8 262.1 L199.2 256.7 L199.6 264.4 L200.1 265.0 L200.5 257.5 L201.0 259.6 L201.4 262.1 L201.8 260.3 L202.3 269.9 L202.7 263.8 L203.2 258.9 L203.6 260.0 L204.0 263.1 L204.5 272.9 L204.9 262.9 L205.4 264.3 L205.8 266.0 L206.2 263.9 L206.7 273.6 L207.1 262.2 L207.6 267.6 L208.0 265.3 L208.4 267.4 L208.9 260.1 L209.3 272.4 L209.8 264.8 L210.2 265.5 L210.6 261.7 L211.1 262.7 L211.5 268.2 L212.0 270.0 L212.4 269.2 L212.8 271.2 L213.3 269.4 L213.7 266.7 L214.2 270.1 L214.6 269.3 L215.0 266.6 L215.5 270.1 L215.9 272.5 L216.4 268.2 L216.8 265.9 L217.2 270.4 L217.7 275.3 L218.1 266.8 L218.6 267.3 L219.0 267.2 L219.4 272.9 L219.9 260.4 L220.3 269.6 L220.8 273.0 L221.2 264.9 L221.6 274.4 L222.1 270.6 L222.5 266.3 L223.0 269.4 L223.4 262.4 L223.8 266.4 L224.3 276.3 L224.7 265.3 L225.2 276.6 L225.6 268.8 L226.0 273.3 L226.5 269.5 L226.9 260.2 L227.4 267.1 L227.8 270.3 L228.2 264.9 L228.7 264.2 L229.1 271.3 L229.6 267.2 L230.0 263.0 L230.4 267.3 L230.9 273.7 L231.3 268.4 L231.8 274.2 L232.2 276.8 L232.6 270.7 L233.1 266.1 L233.5 265.5 L234.0 270.8 L234.4 274.6 L234.8 272.2 L235.3 273.4 L235.7 269.5 L236.2 272.6 L236.6 269.6 L237.0 270.2 L237.5 266.4 L237.9 265.3 L238.4 269.9 L238.8 267.4 L239.2 268.1 L239.7 274.9 L240.1 271.8 L240.6 282.2 L241.0 276.3 L241.4 270.0 L241.9 275.9 L242.3 274.2 L242.8 270.1 L243.2 277.5 L243.6 269.9 L244.1 263.3 L244.5 276.5 L245.0 270.8 L245.4 279.6 L245.8 270.9 L246.3 268.8 L246.7 280.1 L247.2 269.5 L247.6 274.8 L248.0 280.0 L248.5 274.6 L248.9 273.9 L249.4 274.8 L249.8 277.9 L250.2 271.2 L250.7 277.1 L251.1 277.1 L251.6 284.4 L252.0 273.5 L252.4 271.2 L252.9 278.1 L253.3 273.5 L253.8 276.4 L254.2 275.9 L254.6 280.2 L255.1 272.8 L255.5 275.2 L256.0 265.9 L256.4 272.1 L256.8 282.2 L257.3 273.2 L257.7 273.2 L258.2 271.1 L258.6 278.6 L259.0 277.0 L259.5 271.5 L259.9 279.2 L260.4 277.6 L260.8 279.8 L261.2 274.1 L261.7 284.0 L262.1 278.6 L262.6 276.5 L263.0 275.0 L263.4 276.2 L263.9 280.8 L264.3 276.3 L264.8 281.9 L265.2 279.9 L265.6 283.1 L266.1 281.1 L266.5 277.5 L267.0 270.1 L267.4 279.2 L267.8 281.3 L268.3 278.8 L268.7 280.5 L269.2 276.4 L269.6 276.9 L270.0 274.6 L270.5 284.1 L270.9 279.3 L271.4 276.6 L271.8 273.3 L272.2 278.1 L272.7 284.7 L273.1 280.8 L273.6 276.0 L274.0 284.8 L274.4 284.9 L274.9 283.1 L275.3 282.4 L275.8 283.9 L276.2 281.5 L276.6 282.5 L277.1 276.2 L277.5 285.6 L278.0 280.4 L278.4 287.8 L278.8 271.2 L279.3 282.5 L279.7 283.7 L280.2 278.3 L280.6 281.6 L281.0 282.9 L281.5 282.2 L281.9 277.7 L282.4 279.4 L282.8 284.2 L283.2 285.3 L283.7 280.6 L284.1 280.5 L284.6 281.1 L285.0 284.6 L285.4 276.0 L285.9 275.0 L286.3 281.0 L286.8 276.0 L287.2 278.2 L287.6 281.0 L288.1 282.7 L288.5 276.3 L289.0 284.1 L289.4 273.6 L289.8 283.1 L290.3 274.5 L290.7 275.8 L291.2 283.7 L291.6 279.4 L292.0 277.8 L292.5 279.3 L292.9 283.0 L293.4 280.9 L293.8 281.0 L294.2 285.5 L294.7 278.2 L295.1 279.3 L295.6 279.1 L296.0 286.0 L296.4 285.3 L296.9 286.6 L297.3 281.2 L297.8 280.7 L298.2 284.9 L298.6 279.8 L299.1 284.8 L299.5 284.4 L300.0 278.6 L300.4 281.1 L300.8 281.0 L301.3 288.6 L301.7 291.4 L302.2 281.1 L302.6 281.6 L303.0 272.2 L303.5 282.5 L303.9 281.6 L304.4 277.3 L304.8 284.9 L305.2 275.3 L305.7 280.8 L306.1 282.3 L306.6 276.6 L307.0 285.3 L307.4 286.1 L307.9 276.1 L308.3 276.1 L308.8 284.3 L309.2 281.8 L309.6 276.9 L310.1 280.7 L310.5 281.5 L311.0 281.4 L311.4 285.4 L311.8 283.6 L312.3 289.3 L312.7 287.6 L313.2 284.8 L313.6 286.4 L314.0 287.4 L314.5 284.9 L314.9 277.0 L315.4 285.5 L315.8 282.3 L316.2 288.6 L316.7 282.4 L317.1 284.2 L317.6 283.4 L318.0 288.9 L318.4 282.7 L318.9 280.9 L319.3 283.3 L319.8 280.2 L320.2 282.7 L320.6 282.0 L321.1 283.1 L321.5 289.9 L322.0 280.3 L322.4 282.2 L322.8 281.2 L323.3 284.8 L323.7 277.2 L324.2 279.2 L324.6 281.8 L325.0 284.2 L325.5 281.8 L325.9 279.9 L326.4 278.4 L326.8 284.1 L327.2 287.9 L327.7 283.3 L328.1 282.8 L328.6 283.8 L329.0 278.1 L329.4 280.7 L329.9 280.9 L330.3 283.2 L330.8 281.9 L331.2 277.0 L331.6 286.6 L332.1 288.9 L332.5 280.9 L333.0 283.6 L333.4 283.1 L333.8 285.2 L334.3 275.9 L334.7 288.6 L335.2 280.1 L335.6 287.2 L336.0 282.3 L336.5 280.4 L336.9 281.4 L337.4 285.7 L337.8 278.5 L338.2 280.5 L338.7 280.0 L339.1 275.0 L339.6 287.3 L340.0 284.4 L340.4 281.9 L340.9 286.8 L341.3 278.1 L341.8 281.7 L342.2 289.1 L342.6 286.0 L343.1 272.9 L343.5 272.2 L344.0 277.7 L344.4 286.4 L344.8 280.1 L345.3 281.1 L345.7 284.5 L346.2 278.4 L346.6 282.9 L347.0 285.2 L347.5 283.9 L347.9 283.6 L348.4 279.5 L348.8 284.1 L349.2 280.3 L349.7 287.4 L350.1 291.9 L350.6 279.0 L351.0 273.1 L351.4 280.3 L351.9 283.6 L352.3 286.4 L352.8 286.5 L353.2 278.8 L353.6 278.8 L354.1 287.3 L354.5 277.6 L355.0 286.6 L355.4 281.2 L355.8 285.2 L356.3 285.0 L356.7 285.3 L357.2 285.5 L357.6 278.1 L358.0 283.3 L358.5 282.2 L358.9 283.4 L359.4 287.2 L359.8 281.0 L360.2 279.2 L360.7 279.2 L361.1 280.9 L361.6 285.3 L362.0 278.8 L362.4 286.9 L362.9 283.4 L363.3 281.3 L363.8 276.7 L364.2 283.2 L364.6 285.1 L365.1 275.0 L365.5 287.1 L366.0 289.0 L366.4 283.6 L366.8 284.3 L367.3 292.1 L367.7 287.3 L368.2 278.6 L368.6 282.2 L369.0 281.6 L369.5 281.7 L369.9 272.6 L370.4 285.4 L370.8 279.7 L371.2 283.0 L371.7 281.8 L372.1 285.9 L372.6 281.1 L373.0 279.1 L373.4 284.5 L373.9 288.1 L374.3 281.0 L374.8 288.0 L375.2 283.4 L375.6 280.2 L376.1 288.6 L376.5 279.0 L377.0 286.5 L377.4 280.4 L377.8 284.2 L378.3 277.3 L378.7 279.0 L379.2 286.8 L379.6 283.2 L380.0 282.6 L380.5 280.6 L380.9 284.3 L381.4 276.7 L381.8 277.9 L382.2 281.8 L382.7 279.0 L383.1 279.6 L383.6 282.2 L384.0 281.9 L384.4 281.6 L384.9 289.3 L385.3 286.6 L385.8 287.6 L386.2 282.4 L386.6 280.5 L387.1 276.6 L387.5 281.1 L388.0 274.0 L388.4 280.2 L388.8 285.7 L389.3 289.2 L389.7 286.5 L390.2 279.0 L390.6 284.6 L391.0 279.4 L391.5 286.0 L391.9 282.1 L392.4 286.1 L392.8 292.5 L393.2 286.4 L393.7 292.2 L394.1 283.4 L394.6 281.3 L395.0 288.1 L395.4 289.7 L395.9 280.4 L396.3 283.0 L396.8 276.8 L397.2 281.9 L397.6 286.3 L398.1 282.3 L398.5 280.4 L399.0 276.9 L399.4 284.2 L399.8 286.0 L400.3 285.2 L400.7 283.8 L401.2 277.5 L401.6 290.0 L402.0 282.5 L402.5 282.2 L402.9 285.8 L403.4 273.9 L403.8 282.5 L404.2 282.2 L404.7 284.3 L405.1 288.3 L405.6 284.7 L406.0 275.3 L406.4 281.4 L406.9 283.7 L407.3 283.4 L407.8 277.6 L408.2 276.0 L408.6 285.1 L409.1 284.3 L409.5 282.8 L410.0 275.8 L410.4 290.1 L410.8 273.0 L411.3 281.4 L411.7 291.5 L412.2 282.2 L412.6 283.8 L413.0 278.1 L413.5 288.5 L413.9 277.6 L414.4 284.0 L414.8 283.5 L415.2 278.6 L415.7 286.6 L416.1 277.1 L416.6 280.1 L417.0 282.8 L417.4 281.3 L417.9 284.9 L418.3 286.8 L418.8 281.8 L419.2 280.8 L419.6 280.9 L420.1 281.5 L420.5 286.3 L421.0 282.2 L421.4 284.7 L421.8 282.7 L422.3 279.7 L422.7 286.7 L423.2 278.9 L423.6 283.2 L424.0 289.3 L424.5 278.7 L424.9 283.0 L425.4 276.8 L425.8 281.2 L426.2 277.2 L426.7 281.9 L427.1 281.1 L427.6 283.9 L428.0 289.9 L428.4 284.6 L428.9 286.1 L429.3 283.3 L429.8 282.5 L430.2 280.1 L430.6 276.1 L431.1 283.8 L431.5 290.3 L432.0 285.6 L432.4 281.4 L432.8 290.4 L433.3 281.9 L433.7 281.1 L434.2 278.7 L434.6 279.8 L435.0 282.7 L435.5 292.0 L435.9 283.0 L436.4 279.6 L436.8 281.4 L437.2 282.9 L437.7 276.9 L438.1 284.4 L438.6 286.8 L439.0 285.3 L439.4 286.4 L439.9 278.7 L440.3 277.1 L440.8 289.3 L441.2 288.5 L441.6 277.8 L442.1 285.0 L442.5 284.2 L443.0 286.4 L443.4 285.0 L443.8 282.1 L444.3 285.0 L444.7 284.9 L445.2 284.1 L445.6 276.7 L446.0 274.5 L446.5 281.1 L446.9 277.6 L447.4 285.4 L447.8 287.3 L448.2 285.5 L448.7 282.9 L449.1 284.7 L449.6 289.3 L450.0 281.5 L450.4 288.3 L450.9 287.4 L451.3 285.6 L451.8 290.5 L452.2 281.7 L452.6 288.5 L453.1 280.8 L453.5 281.5 L454.0 280.4 L454.4 286.5 L454.8 280.9 L455.3 285.0 L455.7 280.1 L456.2 289.2 L456.6 292.4 L457.0 285.8 L457.5 291.6 L457.9 287.2 L458.4 293.8 L458.8 285.3 L459.2 278.5 L459.7 291.1 L460.1 284.5 L460.6 280.8 L461.0 282.3 L461.4 278.3 L461.9 284.3 L462.3 280.6 L462.8 291.1 L463.2 287.7 L463.6 278.2 L464.1 278.8 L464.5 282.7 L465.0 277.1 L465.4 284.5 L465.8 284.8 L466.3 281.8 L466.7 282.8 L467.2 287.0 L467.6 290.8 L468.0 291.1 L468.5 285.1 L468.9 288.5 L469.4 282.0 L469.8 286.7 L470.2 281.1 L470.7 288.0 L471.1 279.9 L471.6 281.0 L472.0 285.0 L472.4 287.3 L472.9 279.1 L473.3 282.8 L473.8 285.6 L474.2 285.9 L474.6 281.6 L475.1 285.4 L475.5 283.9 L476.0 290.8 L476.4 287.3 L476.8 279.6 L477.3 276.0 L477.7 285.4 L478.2 289.8 L478.6 285.7 L479.0 288.6 L479.5 283.0 L479.9 279.4 L480.4 288.1 L480.8 285.4 L481.2 287.8 L481.7 279.3 L482.1 285.7 L482.6 282.4 L483.0 288.3 L483.4 282.6 L483.9 282.5 L484.3 282.6 L484.8 290.2 L485.2 285.1 L485.6 281.9 L486.1 280.8 L486.5 280.7 L487.0 291.0 L487.4 277.6 L487.8 281.5 L488.3 287.6 L488.7 289.8 L489.2 284.4 L489.6 288.2 L490.0 288.1 L490.5 289.0 L490.9 285.2 L491.4 291.8 L491.8 285.9 L492.2 291.3 L492.7 280.6 L493.1 288.9 L493.6 279.9 L494.0 279.0 L494.4 287.2 L494.9 281.7 L495.3 287.0 L495.8 280.7 L496.2 291.7 L496.6 285.2 L497.1 280.5 L497.5 285.9 L498.0 288.8 L498.4 282.0 L498.8 287.3 L499.3 293.6 L499.7 288.8 L500.2 285.2 L500.6 282.9 L501.0 287.6 L501.5 279.0 L501.9 275.2 L502.4 282.5 L502.8 280.8 L503.2 292.4 L503.7 285.9 L504.1 281.3 L504.6 280.5 L505.0 287.4 L505.4 281.9 L505.9 282.9 L506.3 285.0 L506.8 285.7 L507.2 285.8 L507.6 285.8 L508.1 290.7 L508.5 292.4 L509.0 278.6 L509.4 295.0 L509.8 286.0 L510.3 290.5 L510.7 282.4 L511.2 286.8 L511.6 286.3 L512.0 285.9 L512.5 289.0 L512.9 288.1 L513.4 281.4 L513.8 285.0 L514.2 288.5 L514.7 288.3 L515.1 284.1 L515.6 284.4 L516.0 284.9 L516.4 281.0 L516.9 280.3 L517.3 292.0 L517.8 283.9 L518.2 286.0 L518.6 282.5 L519.1 290.9 L519.5 292.8 L520.0 284.7 L520.4 287.7 L520.8 282.5 L521.3 292.8 L521.7 289.4 L522.2 282.2 L522.6 290.7 L523.0 287.1 L523.5 287.3 L523.9 287.1 L524.4 282.9 L524.8 283.5 L525.2 288.2 L525.7 285.5 L526.1 281.8 L526.6 294.0 L527.0 284.8 L527.4 283.4 L527.9 282.8 L528.3 288.5 L528.8 289.7 L529.2 286.7 L529.6 289.3 L530.1 279.6 L530.5 284.2 L531.0 283.8 L531.4 285.7 L531.8 287.7 L532.3 277.4 L532.7 295.3 L533.2 282.2 L533.6 287.2 L534.0 289.1 L534.5 289.2 L534.9 286.7" fill="none" stroke="#ff0000" stroke-width="2.4" stroke-linejoin="round"/>
<rect x="312.10" y="6.50" width="223.45" height="186.05" fill="#fff"/>
<line x1="95.35" y1="6.50" x2="535.55" y2="6.50" stroke="#000" stroke-width="1.5"/>
<line x1="95.35" y1="313.60" x2="535.55" y2="313.60" stroke="#000" stroke-width="1.5"/>
<line x1="95.35" y1="5.90" x2="95.35" y2="314.20" stroke="#000" stroke-width="1.5"/>
<line x1="535.55" y1="5.90" x2="535.55" y2="314.20" stroke="#000" stroke-width="1.5"/>
<line x1="89.10" y1="313.60" x2="95.35" y2="313.60" stroke="#000" stroke-width="1.5"/>
<text x="85.70" y="322.10" font-size="18" text-anchor="end" >500</text>
<line x1="89.10" y1="236.83" x2="95.35" y2="236.83" stroke="#000" stroke-width="1.5"/>
<text x="85.70" y="245.33" font-size="18" text-anchor="end" >1000</text>
<line x1="89.10" y1="160.05" x2="95.35" y2="160.05" stroke="#000" stroke-width="1.5"/>
<text x="85.70" y="168.55" font-size="18" text-anchor="end" >1500</text>
<line x1="89.10" y1="83.28" x2="95.35" y2="83.28" stroke="#000" stroke-width="1.5"/>
<text x="85.70" y="91.78" font-size="18" text-anchor="end" >2000</text>
<line x1="89.10" y1="6.50" x2="95.35" y2="6.50" stroke="#000" stroke-width="1.5"/>
<text x="85.70" y="15.00" font-size="18" text-anchor="end" >2500</text>
<line x1="92.00" y1="275.21" x2="95.35" y2="275.21" stroke="#000" stroke-width="1.5"/>
<line x1="92.00" y1="198.44" x2="95.35" y2="198.44" stroke="#000" stroke-width="1.5"/>
<line x1="92.00" y1="121.66" x2="95.35" y2="121.66" stroke="#000" stroke-width="1.5"/>
<line x1="92.00" y1="44.89" x2="95.35" y2="44.89" stroke="#000" stroke-width="1.5"/>
<line x1="95.35" y1="313.60" x2="95.35" y2="319.10" stroke="#000" stroke-width="1.5"/>
<text x="95.35" y="337.50" font-size="18" text-anchor="middle" >0</text>
<line x1="183.39" y1="313.60" x2="183.39" y2="319.10" stroke="#000" stroke-width="1.5"/>
<text x="183.39" y="337.50" font-size="18" text-anchor="middle" >20</text>
<line x1="271.43" y1="313.60" x2="271.43" y2="319.10" stroke="#000" stroke-width="1.5"/>
<text x="271.43" y="337.50" font-size="18" text-anchor="middle" >40</text>
<line x1="359.47" y1="313.60" x2="359.47" y2="319.10" stroke="#000" stroke-width="1.5"/>
<text x="359.47" y="337.50" font-size="18" text-anchor="middle" >60</text>
<line x1="447.51" y1="313.60" x2="447.51" y2="319.10" stroke="#000" stroke-width="1.5"/>
<text x="447.51" y="337.50" font-size="18" text-anchor="middle" >80</text>
<line x1="535.55" y1="313.60" x2="535.55" y2="319.10" stroke="#000" stroke-width="1.5"/>
<text x="535.55" y="337.50" font-size="18" text-anchor="middle" >100</text>
<line x1="139.37" y1="313.60" x2="139.37" y2="316.50" stroke="#000" stroke-width="1.5"/>
<line x1="227.41" y1="313.60" x2="227.41" y2="316.50" stroke="#000" stroke-width="1.5"/>
<line x1="315.45" y1="313.60" x2="315.45" y2="316.50" stroke="#000" stroke-width="1.5"/>
<line x1="403.49" y1="313.60" x2="403.49" y2="316.50" stroke="#000" stroke-width="1.5"/>
<line x1="491.53" y1="313.60" x2="491.53" y2="316.50" stroke="#000" stroke-width="1.5"/>
<line x1="312.10" y1="6.50" x2="312.10" y2="193.15" stroke="#000" stroke-width="1.2"/>
<line x1="311.50" y1="192.55" x2="535.55" y2="192.55" stroke="#000" stroke-width="1.3"/>
<line x1="308.60" y1="169.30" x2="312.10" y2="169.30" stroke="#000" stroke-width="1.1"/>
<text x="306.60" y="172.40" font-size="11.2" text-anchor="end" >1000</text>
<line x1="308.60" y1="123.03" x2="312.10" y2="123.03" stroke="#000" stroke-width="1.1"/>
<text x="306.60" y="126.13" font-size="11.2" text-anchor="end" >2000</text>
<line x1="308.60" y1="76.77" x2="312.10" y2="76.77" stroke="#000" stroke-width="1.1"/>
<text x="306.60" y="79.87" font-size="11.2" text-anchor="end" >3000</text>
<line x1="308.60" y1="30.50" x2="312.10" y2="30.50" stroke="#000" stroke-width="1.1"/>
<text x="306.60" y="33.60" font-size="11.2" text-anchor="end" >4000</text>
<line x1="309.80" y1="192.43" x2="312.10" y2="192.43" stroke="#000" stroke-width="1.1"/>
<line x1="309.80" y1="146.17" x2="312.10" y2="146.17" stroke="#000" stroke-width="1.1"/>
<line x1="309.80" y1="99.90" x2="312.10" y2="99.90" stroke="#000" stroke-width="1.1"/>
<line x1="309.80" y1="53.63" x2="312.10" y2="53.63" stroke="#000" stroke-width="1.1"/>
<line x1="309.80" y1="7.37" x2="312.10" y2="7.37" stroke="#000" stroke-width="1.1"/>
<line x1="312.10" y1="192.55" x2="312.10" y2="195.60" stroke="#000" stroke-width="1.1"/>
<text x="312.40" y="208.30" font-size="12" text-anchor="middle" >1200</text>
<line x1="382.17" y1="192.55" x2="382.17" y2="195.60" stroke="#000" stroke-width="1.1"/>
<text x="382.47" y="208.30" font-size="12" text-anchor="middle" >1250</text>
<line x1="452.23" y1="192.55" x2="452.23" y2="195.60" stroke="#000" stroke-width="1.1"/>
<text x="452.53" y="208.30" font-size="12" text-anchor="middle" >1300</text>
<line x1="522.30" y1="192.55" x2="522.30" y2="195.60" stroke="#000" stroke-width="1.1"/>
<text x="522.60" y="208.30" font-size="12" text-anchor="middle" >1350</text>
<line x1="347.13" y1="192.55" x2="347.13" y2="194.60" stroke="#000" stroke-width="1.1"/>
<line x1="417.20" y1="192.55" x2="417.20" y2="194.60" stroke="#000" stroke-width="1.1"/>
<line x1="487.26" y1="192.55" x2="487.26" y2="194.60" stroke="#000" stroke-width="1.1"/>
<path d="M312.1 167.2 L313.0 167.3 L313.9 166.8 L314.8 165.5 L315.7 165.4 L316.6 165.7 L317.5 166.5 L318.4 166.6 L319.3 167.3 L320.2 166.3 L321.1 167.3 L322.0 166.0 L322.9 165.7 L323.8 164.8 L324.7 164.1 L325.6 164.0 L326.5 164.3 L327.4 164.0 L328.3 164.2 L329.2 164.7 L330.1 164.1 L331.0 164.0 L331.9 165.0 L332.8 164.7 L333.7 164.3 L334.6 165.0 L335.5 165.2 L336.4 164.5 L337.3 164.0 L338.2 164.3 L339.1 164.3 L340.0 163.4 L340.9 162.8 L341.8 162.9 L342.7 162.6 L343.6 162.3 L344.5 162.8 L345.4 163.2 L346.3 162.8 L347.2 162.7 L348.1 163.4 L349.0 163.1 L349.9 163.3 L350.8 162.1 L351.7 162.2 L352.6 161.9 L353.5 161.3 L354.4 161.9 L355.3 161.8 L356.2 161.0 L357.1 161.7 L358.0 161.2 L358.9 161.0 L359.8 160.8 L360.7 161.0 L361.6 159.9 L362.5 160.7 L363.4 160.7 L364.3 159.5 L365.2 160.2 L366.1 159.6 L367.0 159.7 L367.9 158.9 L368.8 158.7 L369.7 158.6 L370.6 157.7 L371.5 158.0 L372.4 157.2 L373.3 157.0 L374.2 156.0 L375.1 156.2 L376.0 155.5 L376.9 154.6 L377.8 154.2 L378.7 153.6 L379.6 152.9 L380.5 149.7 L381.4 148.7 L382.3 147.5 L383.2 146.8 L384.1 146.0 L385.0 144.8 L385.9 140.5 L386.8 138.0 L387.7 135.0 L388.6 130.4 L389.5 128.5 L390.4 126.0 L391.3 124.6 L392.2 122.7 L393.1 120.1 L394.0 115.1 L394.9 112.0 L395.8 109.0 L396.7 105.8 L397.6 101.7 L398.5 97.6 L399.4 93.6 L400.3 89.0 L401.2 84.4 L402.1 78.9 L403.0 74.2 L403.9 69.5 L404.8 64.8 L405.7 60.8 L406.6 56.7 L407.5 53.7 L408.4 51.3 L409.3 48.1 L410.2 46.0 L411.1 45.7 L412.0 43.8 L412.9 42.7 L413.8 40.4 L414.7 39.9 L415.6 39.1 L416.5 40.4 L417.4 41.6 L418.3 41.6 L419.2 45.1 L420.1 45.7 L421.0 44.1 L421.9 45.1 L422.8 46.3 L423.7 47.7 L424.6 49.4 L425.5 51.0 L426.4 53.4 L427.3 54.9 L428.2 56.6 L429.1 56.4 L430.0 57.6 L430.9 61.7 L431.8 65.2 L432.7 69.0 L433.6 71.4 L434.5 74.1 L435.4 76.3 L436.3 78.6 L437.2 79.6 L438.1 80.9 L439.0 82.3 L439.9 83.9 L440.8 85.2 L441.7 87.1 L442.6 88.8 L443.5 90.6 L444.4 91.9 L445.3 92.7 L446.2 95.8 L447.1 98.2 L448.0 100.9 L448.9 103.2 L449.8 105.1 L450.7 107.0 L451.6 107.9 L452.5 107.0 L453.4 110.2 L454.3 113.4 L455.2 115.2 L456.1 116.7 L457.0 117.6 L457.9 118.6 L458.8 120.4 L459.7 123.0 L460.6 125.3 L461.5 125.4 L462.4 126.9 L463.3 127.6 L464.2 129.3 L465.1 130.4 L466.0 132.4 L466.9 133.9 L467.8 135.1 L468.7 136.5 L469.6 137.1 L470.5 137.4 L471.4 138.2 L472.3 139.0 L473.2 140.7 L474.1 141.9 L475.0 143.5 L475.9 144.0 L476.8 144.7 L477.7 143.5 L478.6 144.3 L479.5 146.2 L480.4 147.7 L481.3 149.7 L482.2 149.6 L483.1 149.7 L484.0 150.1 L484.9 151.4 L485.8 151.4 L486.7 151.8 L487.6 153.2 L488.5 153.4 L489.4 155.8 L490.3 155.0 L491.2 156.6 L492.1 157.3 L493.0 157.0 L493.9 158.4 L494.8 159.1 L495.7 159.2 L496.6 159.5 L497.5 160.2 L498.4 160.2 L499.3 160.6 L500.2 160.9 L501.1 161.9 L502.0 161.9 L502.9 163.4 L503.8 163.5 L504.7 163.9 L505.6 165.3 L506.5 166.5 L507.4 166.7 L508.3 166.5 L509.2 167.5 L510.1 167.5 L511.0 168.2 L511.9 168.8 L512.8 168.1 L513.7 169.5 L514.6 169.3 L515.5 169.7 L516.4 169.6 L517.3 169.9 L518.2 170.9 L519.1 172.8 L520.0 174.1 L520.9 174.4 L521.7 175.3" fill="none" stroke="#000" stroke-width="1.8" stroke-linejoin="round"/>
<text x="0.00" y="0.00" font-size="26" text-anchor="middle" transform="translate(21.9,152.5) rotate(-90)">Counts</text>
<text x="315.50" y="377.20" font-size="25" text-anchor="middle" >t / <tspan dx="1">μ</tspan>s</text>
<text x="0.00" y="0.00" font-size="19" text-anchor="middle" transform="translate(275.3,90.5) rotate(-90)">Counts</text>
<text x="430.80" y="227.80" font-size="19" text-anchor="middle" ><tspan font-family="&apos;Noto Serif CJK SC&apos;, serif" font-size="17.5">λ</tspan>/ nm</text>
</svg>
</body></html>
